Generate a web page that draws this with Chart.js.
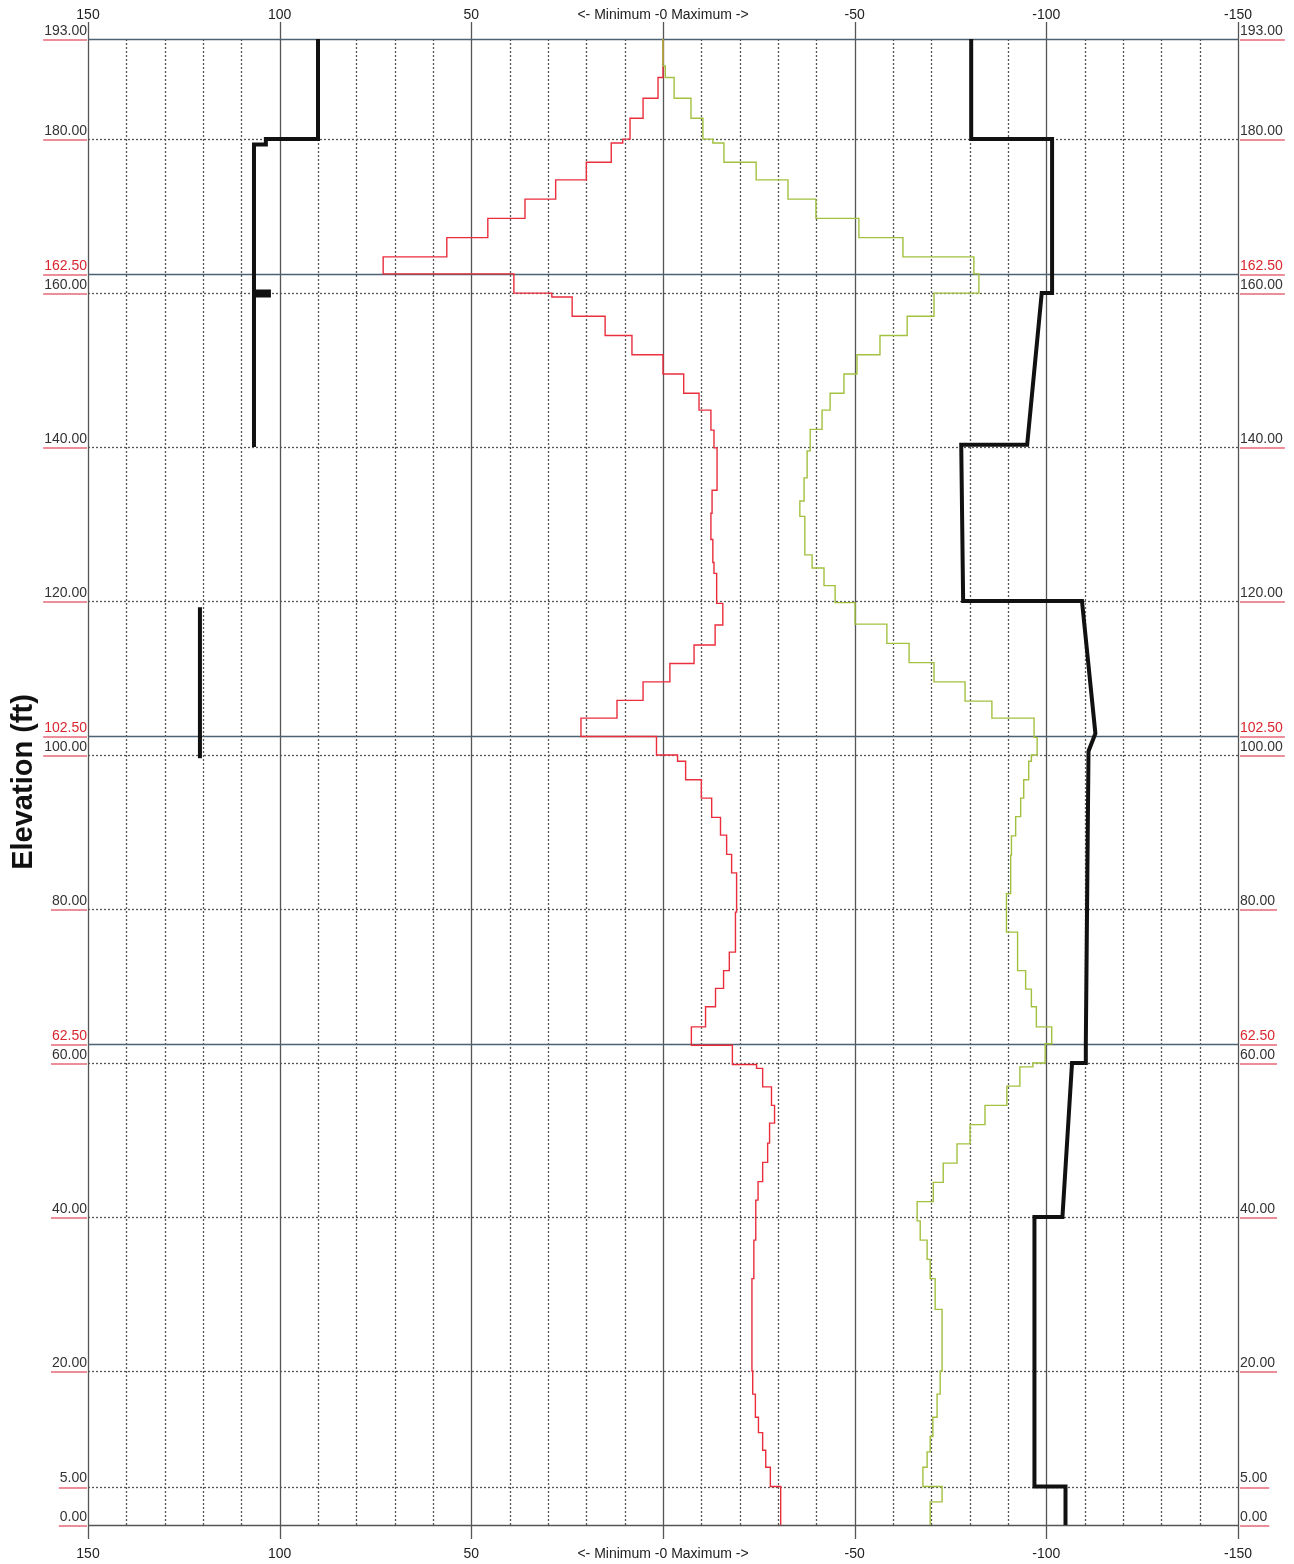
<!DOCTYPE html>
<html>
<head>
<meta charset="utf-8">
<script src="https://cdn.jsdelivr.net/npm/chart.js@4.4.0/dist/chart.umd.min.js"></script>
<style>
  html, body { margin: 0; padding: 0; background: #fff; }
  canvas { display: block; }
</style>
</head>
<body>
<canvas id="elev" width="1294" height="1564"></canvas>
<script>
// elevation levels that get a grid line and a label (ft)
const elevTicks = [0, 5, 20, 40, 60, 62.5, 80, 100, 102.5, 120, 140, 160, 162.5, 180, 193];
const boundaryElevs = [62.5, 102.5, 162.5];

// red curve (minimum) - each value holds from its elevation down to the next one
const redElev = [193, 188, 185.3, 182.7, 180, 179.5, 177, 174.7, 172.2, 169.7,
  167.2, 164.7, 162.5, 160, 159.5, 157, 154.5, 152, 149.5, 147,
  144.8, 142.2, 139.9, 134.4, 131.4, 128, 125, 123.6, 119.7, 116.9,
  114.3, 111.9, 109.5, 107.1, 104.8, 102.4, 100, 99.2, 96.8, 94.4,
  91.9, 89.6, 87.1, 84.7, 79.6, 74.4, 72, 69.7, 67.3, 64.7,
  62.3, 59.8, 59.3, 56.9, 54.5, 52.2, 49.6, 47.1, 44.6, 42.2,
  37, 32, 25, 20, 17, 14, 12, 9.7, 7.5, 5, 0];
const redVal = [0, 1.3, 5.2, 8.6, 10.5, 13.5, 20, 28, 36, 45.7,
  56.4, 73, 38.9, 29, 23.7, 15.1, 8.1, 0, -5.4, -9.4,
  -12.5, -13.3, -14.1, -12.8, -12.5, -13, -13.3, -14, -15.6, -13.6,
  -8.1, -1.8, 5.2, 12, 21.4, 1.7, -3.8, -5.9, -10, -12.7,
  -15, -16.6, -17.9, -19.2, -18.9, -17.3, -15.8, -13.7, -11.1, -7.4,
  -18.1, -24.4, -26, -28.3, -29.1, -27.8, -27.3, -26, -24.8, -24.2,
  -23.7, -23.2, -23.2, -23.4, -24.1, -24.9, -26, -26.8, -28, -30.7, -30.7];

// green curve (maximum)
const greenElev = [193, 189.5, 188, 185.3, 182.7, 180, 179.5, 177, 174.7, 172.2, 169.7,
  167.2, 164.7, 162.5, 160, 157, 154.5, 152, 149.5, 147, 144.8,
  142.3, 139.5, 136, 133, 131, 126, 124.3, 122, 119.8, 117,
  114.5, 112, 109.5, 107, 104.8, 102.3, 100, 99.2, 96.8, 94.4,
  92, 89.5, 87, 82, 77, 72, 69.6, 67.3, 64.7, 62.5,
  60, 59.5, 57, 54.5, 52, 49.5, 47, 44.5, 42, 39.5,
  37, 34.5, 32, 28, 20, 17, 14, 11.5, 9.5, 7.5,
  5, 3, 0];
const greenVal = [0, -0.6, -2.9, -7.3, -10.4, -13, -15.9, -24.3, -32.6, -39.9, -51.1,
  -62.6, -81.1, -82.4, -70.7, -63.7, -56.6, -50.6, -47.2, -43.6, -41.5,
  -38.4, -37.6, -36.8, -35.7, -37, -38.9, -42, -44.9, -50.1, -58.4,
  -64.2, -70.7, -78.8, -85.8, -96.8, -97.6, -96.1, -95.4, -94.1, -93.3,
  -92, -90.9, -90.7, -89.6, -92.5, -94.6, -96.1, -97.4, -101.4, -99.7,
  -96.5, -93.1, -89.7, -84, -80.1, -76.7, -73.1, -70.5, -66.3, -67.1,
  -68.9, -69.7, -71, -72.8, -72.3, -71.5, -70.4, -69.7, -68.9, -67.8,
  -72.8, -69.7, -69.7];

// heavy black envelopes (polylines)
const blackLeftElev = [193, 180, 180, 179.3, 179.3, 160.2, 160.2, 159.7, 159.7, 140];
const blackLeftVal = [90, 90, 103.6, 103.6, 106.7, 106.7, 102.8, 102.8, 106.7, 106.7];
const blackMidElev = [119.2, 99.6];
const blackMidVal = [120.8, 120.8];
const blackRightElev = [193, 180, 180, 160, 160, 140.3, 140.3, 120, 120, 102.8, 100.5, 62.5, 60, 60, 40, 40, 5, 5, 0];
const blackRightVal = [-80.4, -80.4, -101.5, -101.5, -98.8, -95, -77.8, -78.3, -109.3, -112.8, -111, -110.3, -110.3, -106.7, -104.2, -96.9, -96.9, -105, -105];

function pts(vals, elevs) {
  return vals.map((v, i) => ({x: v, y: elevs[i]}));
}

const labelFont = {family: 'Liberation Sans, Arial, sans-serif', size: 14};

// dotted / solid grid and the red label underlines
const sheetGrid = {
  id: 'sheetGrid',
  beforeDatasetsDraw(chart) {
    const {ctx, chartArea: a, scales: {x, y}} = chart;
    ctx.save();
    for (let v = -150; v <= 150; v += 10) {
      const px = Math.round(x.getPixelForValue(v)) + 0.5;
      const major = v % 50 === 0;
      ctx.beginPath();
      ctx.setLineDash(major ? [] : [2, 2]);
      ctx.strokeStyle = '#555';
      ctx.lineWidth = 1.3;
      ctx.moveTo(px, major ? a.top - 17 : a.top);
      ctx.lineTo(px, major ? a.bottom + 14 : a.bottom);
      ctx.stroke();
    }
    elevTicks.forEach(e => {
      const py = Math.round(y.getPixelForValue(e)) + 0.5;
      const solid = e === 0 || e === 193 || boundaryElevs.includes(e);
      ctx.beginPath();
      ctx.setLineDash(solid ? [] : [2, 2]);
      ctx.strokeStyle = boundaryElevs.includes(e) || e === 193 ? '#4d6275' : '#555';
      ctx.lineWidth = 1.3;
      ctx.moveTo(a.left, py);
      ctx.lineTo(a.right, py);
      ctx.stroke();
    });
    ctx.restore();
  },
  afterDraw(chart) {
    const {ctx, chartArea: a, scales: {y}} = chart;
    ctx.save();
    ctx.font = labelFont.size + 'px ' + labelFont.family;
    ctx.strokeStyle = '#e6687a';
    ctx.lineWidth = 1.6;
    elevTicks.forEach(e => {
      const py = Math.round(y.getPixelForValue(e)) + 1;
      const w = ctx.measureText(e.toFixed(2)).width;
      ctx.beginPath();
      ctx.moveTo(a.left - w - 2, py);
      ctx.lineTo(a.left - 1, py);
      ctx.moveTo(a.right + 2, py);
      ctx.lineTo(a.right + w + 4, py);
      ctx.stroke();
    });
    ctx.restore();
  }
};

const elevAxis = (position, width) => ({
  type: 'linear',
  position: position,
  min: 0,
  max: 193,
  grid: {display: false, drawTicks: false},
  border: {display: false},
  afterBuildTicks: s => { s.ticks = elevTicks.map(v => ({value: v})); },
  afterFit: s => { s.width = width; },
  ticks: {
    autoSkip: false,
    padding: position === 'left' ? 1 : 2,
    labelOffset: -8,
    font: labelFont,
    color: c => boundaryElevs.includes(c.tick.value) ? '#d9262f' : '#333',
    callback: v => Number(v).toFixed(2)
  }
});

const valueAxis = (position, pad) => ({
  type: 'linear',
  position: position,
  min: -150,
  max: 150,
  reverse: true,
  grid: {display: false, drawTicks: false},
  border: {display: false},
  afterFit: s => { s.height = 39; },
  ticks: {
    stepSize: 50,
    autoSkip: false,
    maxRotation: 0,
    padding: pad,
    font: labelFont,
    color: '#222',
    callback: v => v === 0 ? '<- Minimum -0 Maximum ->' : String(v)
  }
});

new Chart(document.getElementById('elev'), {
  type: 'scatter',
  data: {
    datasets: [
      {data: pts(greenVal, greenElev), showLine: true, stepped: 'after', borderColor: '#a3c140', borderWidth: 1.4, pointRadius: 0},
      {data: pts(redVal, redElev), showLine: true, stepped: 'after', borderColor: '#ea2e3c', borderWidth: 1.4, pointRadius: 0},
      {data: pts(blackLeftVal, blackLeftElev), showLine: true, borderColor: '#111', borderWidth: 4, pointRadius: 0, borderJoinStyle: 'miter'},
      {data: pts(blackMidVal, blackMidElev), showLine: true, borderColor: '#111', borderWidth: 4, pointRadius: 0},
      {data: pts(blackRightVal, blackRightElev), showLine: true, borderColor: '#111', borderWidth: 4, pointRadius: 0, borderJoinStyle: 'miter'}
    ]
  },
  options: {
    responsive: false,
    animation: false,
    layout: {padding: 0},
    plugins: {legend: {display: false}, tooltip: {enabled: false}},
    scales: {
      x: valueAxis('bottom', 21),
      x2: valueAxis('top', 15),
      y: Object.assign(elevAxis('left', 88), {
        title: {display: true, text: 'Elevation (ft)', color: '#111', padding: {top: 7, bottom: 0},
          font: {family: 'Liberation Sans, Arial, sans-serif', size: 29, weight: 'bold'}}
      }),
      y2: elevAxis('right', 56)
    }
  },
  plugins: [sheetGrid]
});
</script>
</body>
</html>
